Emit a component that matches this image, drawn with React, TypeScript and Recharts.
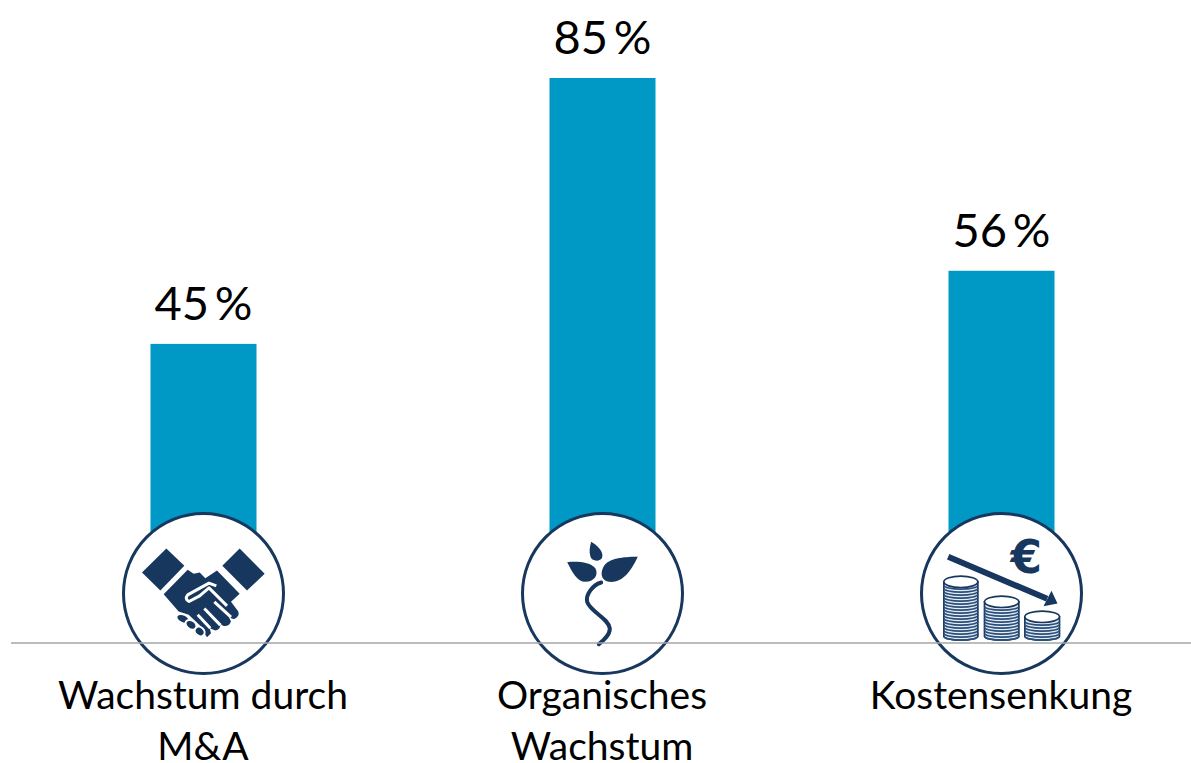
import { Bar, BarChart, LabelList, XAxis, YAxis } from "recharts"

const CATEGORIES = ["Wachstum durch\nM&A", "Organisches\nWachstum", "Kostensenkung"]
const VALUES = [45, 85, 56]
const ICONS = ["handshake", "sprout", "coins"]

const data = CATEGORIES.map((name, i) => ({ name, value: VALUES[i], icon: ICONS[i] }))

const NAVY = "#17375e"
const BLUE = "#0098c4"
const FONT = "Lato, sans-serif"

function Handshake() {
  return (
    <g transform="translate(-279.5 -281)">
      <polygon points="168,146 222,198 150,272 95,218" fill={NAVY} />
      <polygon points="388,146 463,222 410,272 336,198" fill={NAVY} />
      <path
        d="M160,283 L232,210 L250,222 L268,218 L285,235 L320,212 L388,282 L362,306 L384,335 Q388,348 375,356 Q365,360 355,350 L362,365 Q355,382 338,378 L330,372 Q332,390 315,392 L298,385 L302,400 L290,412 L282,400 L270,378 L235,345 L205,335 Z"
        fill={NAVY}
      />
      <path
        d="M318,258 L296,250 L232,285 Q222,298 236,305 L268,288 L296,264 L350,318"
        fill="none"
        stroke="#fff"
        strokeWidth={9}
        strokeLinejoin="round"
      />
      <path d="M312,306 L362,352 M282,326 L330,376 M262,345 L300,385" stroke="#fff" strokeWidth={9} fill="none" />
      <ellipse cx={218} cy={357} rx={21} ry={13} fill={NAVY} stroke="#fff" strokeWidth={6} transform="rotate(25 218 357)" />
      <ellipse cx={242} cy={375} rx={18} ry={13} fill={NAVY} stroke="#fff" strokeWidth={6} transform="rotate(35 242 375)" />
      <ellipse cx={268} cy={395} rx={16} ry={13} fill={NAVY} stroke="#fff" strokeWidth={6} transform="rotate(40 268 395)" />
    </g>
  )
}

function Sprout() {
  return (
    <g transform="translate(-276 -280)">
      <path d="M242,125 C260,135 280,155 275,172 C270,185 245,185 240,170 C235,155 238,140 242,125 Z" fill={NAVY} />
      <path d="M170,186 C200,183 240,185 255,205 C265,225 250,245 225,245 C200,245 185,215 170,186 Z" fill={NAVY} />
      <path d="M382,170 C350,170 300,172 282,195 C268,215 270,240 295,245 C340,250 365,205 382,170 Z" fill={NAVY} />
      <path
        d="M272,247 C245,255 225,285 230,305 C240,335 295,355 298,385 C298,405 280,420 265,432"
        fill="none"
        stroke={NAVY}
        strokeWidth={12}
        strokeLinecap="round"
      />
    </g>
  )
}

function CoinStack({ x1, x2, top }: { x1: number; x2: number; top: number }) {
  const bottom = 408
  const rx = (x2 - x1) / 2
  const stripes: number[] = []
  for (let y = bottom; y > top + 6; y -= 9) stripes.push(y)
  return (
    <g>
      <path
        d={`M${x1},${top} L${x1},${bottom} A${rx},12 0 0 0 ${x2},${bottom} L${x2},${top} Z`}
        fill="#e4ebf2"
        stroke={NAVY}
        strokeWidth={5}
      />
      {stripes.map((y) => (
        <path key={y} d={`M${x1},${y} A${rx},12 0 0 0 ${x2},${y}`} fill="none" stroke="#2b4f7c" strokeWidth={5} />
      ))}
      <ellipse cx={x1 + rx} cy={top} rx={rx} ry={17} fill="#fff" stroke={NAVY} strokeWidth={5} />
    </g>
  )
}

function Coins() {
  return (
    <g transform="translate(-288 -280)">
      <path d="M128,170 L425,296" stroke={NAVY} strokeWidth={18} fill="none" />
      <polygon points="456,310 414,318 438,272" fill={NAVY} />
      <text x={362} y={218} textAnchor="middle" fontFamily="DejaVu Sans, sans-serif" fontWeight={700} fontSize={136} fill={NAVY}>
        €
      </text>
      <CoinStack x1={115} x2={217} top={245} />
      <CoinStack x1={237} x2={340} top={305} />
      <CoinStack x1={358} x2={462} top={350} />
    </g>
  )
}

// bar plus the round badge that sits over its foot
function BarWithBadge(props: any) {
  const { x, y, width, height, payload } = props
  const cx = x + width / 2
  const cy = y + height - 49.5
  return (
    <g>
      <rect x={x} y={y} width={width} height={height - 100} fill={BLUE} />
      <circle cx={cx} cy={cy} r={80} fill="#fff" stroke={NAVY} strokeWidth={3} />
      <g transform={`translate(${cx} ${cy}) scale(0.3333)`}>
        {payload.icon === "handshake" && <Handshake />}
        {payload.icon === "sprout" && <Sprout />}
        {payload.icon === "coins" && <Coins />}
      </g>
    </g>
  )
}

function CategoryTick({ x, y, payload }: any) {
  const lines = String(payload.value).split("\n")
  return (
    <text textAnchor="middle" fontFamily={FONT} fontSize={39} fill="#000">
      {lines.map((line, i) => (
        <tspan key={line} x={x} y={y + 58 + i * 51}>
          {line}
        </tspan>
      ))}
    </text>
  )
}

export default function App() {
  return (
    <div style={{ position: "absolute", left: 0, top: 0, width: 1191, height: 763, background: "#fff" }}>
      <BarChart width={1191} height={763} data={data} margin={{ top: 78, right: 0, left: 11, bottom: 0 }}>
        <XAxis
          dataKey="name"
          interval={0}
          height={120}
          padding={{ left: -7.5, right: -9.5 }}
          tickLine={false}
          axisLine={{ stroke: "#a6a6a6", strokeWidth: 1.5 }}
          tick={<CategoryTick />}
        />
        <YAxis hide domain={[0, 85]} />
        <Bar dataKey="value" barSize={106} isAnimationActive={false} shape={<BarWithBadge />}>
          <LabelList
            dataKey="value"
            position="top"
            offset={24}
            formatter={(v: any) => `${v}\u2009%`}
            style={{ fontFamily: FONT, fontSize: 47, fill: "#000" }}
          />
        </Bar>
      </BarChart>
    </div>
  )
}
